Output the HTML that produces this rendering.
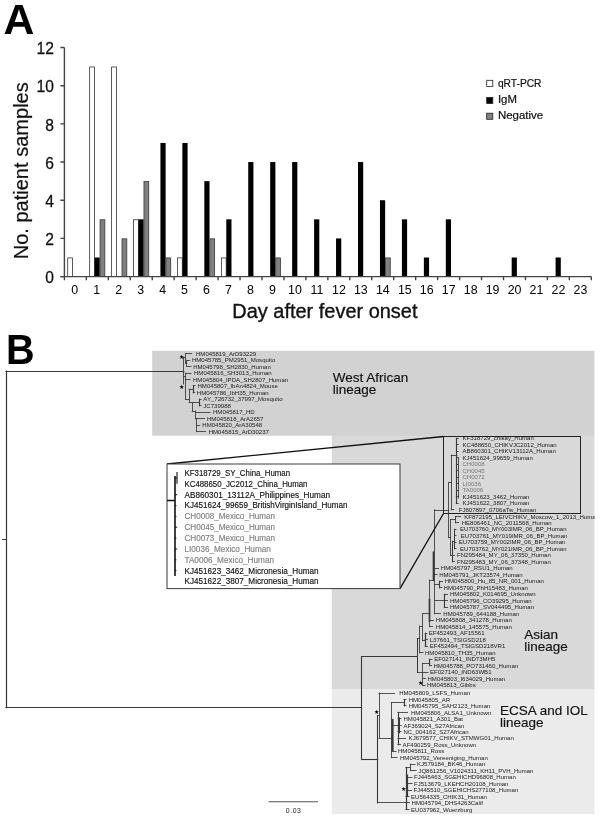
<!DOCTYPE html>
<html lang="en"><head><meta charset="utf-8"><title>Figure</title>
<style>html,body{margin:0;padding:0;background:#fff}svg{display:block}</style></head>
<body>
<svg width="600" height="822" viewBox="0 0 600 822" font-family="'Liberation Sans', Arial, sans-serif">
<rect x="0" y="0" width="600" height="822" fill="#fff"/>
<text transform="translate(3.5,33.8) scale(1.11,1.085)" font-size="38.5" font-weight="bold" fill="#000">A</text>
<g stroke-width="0.8">
<rect x="67.70" y="257.91" width="4.80" height="18.69" fill="#fff" stroke="#333"/>
<rect x="89.65" y="66.99" width="4.80" height="209.61" fill="#fff" stroke="#333"/>
<rect x="94.55" y="257.51" width="5.20" height="19.09" fill="#000" stroke="none"/>
<rect x="100.05" y="219.73" width="4.80" height="56.88" fill="#808080" stroke="#3a3a3a"/>
<rect x="111.61" y="66.99" width="4.80" height="209.61" fill="#fff" stroke="#333"/>
<rect x="122.01" y="238.82" width="4.80" height="37.78" fill="#808080" stroke="#3a3a3a"/>
<rect x="133.56" y="219.73" width="4.80" height="56.88" fill="#fff" stroke="#333"/>
<rect x="138.46" y="219.33" width="5.20" height="57.28" fill="#000" stroke="none"/>
<rect x="143.96" y="181.54" width="4.80" height="95.06" fill="#808080" stroke="#3a3a3a"/>
<rect x="160.42" y="142.96" width="5.20" height="133.64" fill="#000" stroke="none"/>
<rect x="165.92" y="257.91" width="4.80" height="18.69" fill="#808080" stroke="#3a3a3a"/>
<rect x="177.47" y="257.91" width="4.80" height="18.69" fill="#fff" stroke="#333"/>
<rect x="182.37" y="142.96" width="5.20" height="133.64" fill="#000" stroke="none"/>
<rect x="204.32" y="181.14" width="5.20" height="95.46" fill="#000" stroke="none"/>
<rect x="209.83" y="238.82" width="4.80" height="37.78" fill="#808080" stroke="#3a3a3a"/>
<rect x="221.38" y="257.91" width="4.80" height="18.69" fill="#fff" stroke="#333"/>
<rect x="226.28" y="219.33" width="5.20" height="57.28" fill="#000" stroke="none"/>
<rect x="248.23" y="162.05" width="5.20" height="114.55" fill="#000" stroke="none"/>
<rect x="270.19" y="162.05" width="5.20" height="114.55" fill="#000" stroke="none"/>
<rect x="275.69" y="257.91" width="4.80" height="18.69" fill="#808080" stroke="#3a3a3a"/>
<rect x="292.14" y="162.05" width="5.20" height="114.55" fill="#000" stroke="none"/>
<rect x="314.10" y="219.33" width="5.20" height="57.28" fill="#000" stroke="none"/>
<rect x="336.05" y="238.42" width="5.20" height="38.18" fill="#000" stroke="none"/>
<rect x="358.00" y="162.05" width="5.20" height="114.55" fill="#000" stroke="none"/>
<rect x="379.96" y="200.23" width="5.20" height="76.37" fill="#000" stroke="none"/>
<rect x="385.46" y="257.91" width="4.80" height="18.69" fill="#808080" stroke="#3a3a3a"/>
<rect x="401.91" y="219.33" width="5.20" height="57.28" fill="#000" stroke="none"/>
<rect x="423.87" y="257.51" width="5.20" height="19.09" fill="#000" stroke="none"/>
<rect x="445.82" y="219.33" width="5.20" height="57.28" fill="#000" stroke="none"/>
<rect x="511.68" y="257.51" width="5.20" height="19.09" fill="#000" stroke="none"/>
<rect x="555.59" y="257.51" width="5.20" height="19.09" fill="#000" stroke="none"/>
</g>
<g stroke="#444" stroke-width="1.4" fill="none">
<path d="M64.4 47.5 V276.6 M60.400000000000006 276.6 H591.3"/>
<path d="M60.40 276.60 H64.40 M60.40 238.42 H64.40 M60.40 200.23 H64.40 M60.40 162.05 H64.40 M60.40 123.87 H64.40 M60.40 85.68 H64.40 M60.40 47.50 H64.40 M64.40 276.60 V280.20 M86.35 276.60 V280.20 M108.31 276.60 V280.20 M130.26 276.60 V280.20 M152.22 276.60 V280.20 M174.17 276.60 V280.20 M196.12 276.60 V280.20 M218.08 276.60 V280.20 M240.03 276.60 V280.20 M261.99 276.60 V280.20 M283.94 276.60 V280.20 M305.90 276.60 V280.20 M327.85 276.60 V280.20 M349.80 276.60 V280.20 M371.76 276.60 V280.20 M393.71 276.60 V280.20 M415.67 276.60 V280.20 M437.62 276.60 V280.20 M459.57 276.60 V280.20 M481.53 276.60 V280.20 M503.48 276.60 V280.20 M525.44 276.60 V280.20 M547.39 276.60 V280.20 M569.35 276.60 V280.20 M591.30 276.60 V280.20 "/>
</g>
<g font-size="15.6" fill="#111" stroke="#111" stroke-width="0.25" text-anchor="end">
<text transform="translate(53.8,283.30) scale(1,1.05)">0</text>
<text transform="translate(53.8,245.12) scale(1,1.05)">2</text>
<text transform="translate(53.8,206.93) scale(1,1.05)">4</text>
<text transform="translate(53.8,168.75) scale(1,1.05)">6</text>
<text transform="translate(53.8,130.57) scale(1,1.05)">8</text>
<text transform="translate(53.8,92.38) scale(1,1.05)">10</text>
<text transform="translate(53.8,54.20) scale(1,1.05)">12</text>
</g>
<g font-size="12.4" fill="#000" text-anchor="middle">
<text x="74.78" y="294.2">0</text>
<text x="96.73" y="294.2">1</text>
<text x="118.69" y="294.2">2</text>
<text x="140.64" y="294.2">3</text>
<text x="162.59" y="294.2">4</text>
<text x="184.55" y="294.2">5</text>
<text x="206.50" y="294.2">6</text>
<text x="228.46" y="294.2">7</text>
<text x="250.41" y="294.2">8</text>
<text x="272.36" y="294.2">9</text>
<text x="295.02" y="294.2">10</text>
<text x="316.97" y="294.2">11</text>
<text x="338.93" y="294.2">12</text>
<text x="360.88" y="294.2">13</text>
<text x="382.84" y="294.2">14</text>
<text x="404.79" y="294.2">15</text>
<text x="426.74" y="294.2">16</text>
<text x="448.70" y="294.2">17</text>
<text x="470.65" y="294.2">18</text>
<text x="492.61" y="294.2">19</text>
<text x="514.56" y="294.2">20</text>
<text x="536.51" y="294.2">21</text>
<text x="558.47" y="294.2">22</text>
<text x="580.42" y="294.2">23</text>
</g>
<text x="232.3" y="317.5" font-size="19.9" fill="#111" stroke="#111" stroke-width="0.35" textLength="185.2" lengthAdjust="spacingAndGlyphs">Day after fever onset</text>
<text transform="translate(28.3,259.3) rotate(-90)" font-size="20.05" fill="#111" stroke="#111" stroke-width="0.2">No. patient samples</text>
<rect x="486.7" y="80.3" width="6.1" height="6.1" fill="#fff" stroke="#222" stroke-width="0.8"/>
<text x="497.9" y="86.9" font-size="10.4" fill="#111" stroke="#111" stroke-width="0.2" textLength="43.6" lengthAdjust="spacingAndGlyphs">qRT-PCR</text>
<rect x="486.7" y="97.4" width="6.1" height="6.1" fill="#000" stroke="#222" stroke-width="0.8"/>
<text x="497.9" y="102.7" font-size="10.4" fill="#111" stroke="#111" stroke-width="0.2" textLength="19.0" lengthAdjust="spacingAndGlyphs">IgM</text>
<rect x="486.7" y="113.2" width="6.1" height="6.1" fill="#808080" stroke="#222" stroke-width="0.8"/>
<text x="497.9" y="119.1" font-size="10.4" fill="#111" stroke="#111" stroke-width="0.2" textLength="45.3" lengthAdjust="spacingAndGlyphs">Negative</text>
<text transform="translate(6.1,364.0) scale(1.03,1.085)" font-size="38.5" font-weight="bold" fill="#000">B</text>
<rect x="331.8" y="435" width="262.6" height="254" fill="#d9d9d9"/>
<rect x="152.2" y="350.8" width="442.2" height="84.9" fill="#d2d2d2"/>
<rect x="331.8" y="689" width="262.6" height="125.2" fill="#ebebeb"/>
<g stroke="#383838" fill="none" stroke-linecap="square">
<line x1="6.5" y1="371.2" x2="6.5" y2="707.6" stroke-width="1.2"/>
<line x1="6.0" y1="371.5" x2="183.8" y2="371.5" stroke-width="1.1"/>
<line x1="6.0" y1="707.5" x2="361.6" y2="707.5" stroke-width="1.1"/>
<line x1="2.5" y1="539.5" x2="6.0" y2="539.5" stroke-width="1.0"/>
<line x1="183.5" y1="357.5" x2="183.5" y2="384.0" stroke-width="0.85"/>
<line x1="183.8" y1="357.5" x2="185.5" y2="357.5" stroke-width="0.85"/>
<line x1="185.5" y1="353.6" x2="185.5" y2="363.0" stroke-width="0.85"/>
<line x1="185.5" y1="353.5" x2="191.7" y2="353.5" stroke-width="0.85"/>
<line x1="185.5" y1="363.5" x2="186.7" y2="363.5" stroke-width="0.85"/>
<line x1="186.5" y1="360.3" x2="186.5" y2="366.3" stroke-width="0.85"/>
<line x1="186.7" y1="360.5" x2="189.5" y2="360.5" stroke-width="0.85"/>
<line x1="186.7" y1="366.5" x2="191.0" y2="366.5" stroke-width="0.85"/>
<line x1="183.8" y1="376.5" x2="185.5" y2="376.5" stroke-width="0.85"/>
<line x1="185.5" y1="373.0" x2="185.5" y2="399.2" stroke-width="0.85"/>
<line x1="185.5" y1="373.5" x2="191.0" y2="373.5" stroke-width="0.85"/>
<line x1="185.5" y1="379.5" x2="190.0" y2="379.5" stroke-width="0.85"/>
<line x1="185.5" y1="399.5" x2="189.2" y2="399.5" stroke-width="0.85"/>
<line x1="189.5" y1="389.2" x2="189.5" y2="402.5" stroke-width="0.85"/>
<line x1="189.2" y1="389.5" x2="193.3" y2="389.5" stroke-width="0.85"/>
<line x1="193.5" y1="385.8" x2="193.5" y2="392.8" stroke-width="1.1"/>
<line x1="193.3" y1="385.5" x2="195.0" y2="385.5" stroke-width="0.85"/>
<line x1="193.3" y1="392.5" x2="194.6" y2="392.5" stroke-width="0.85"/>
<line x1="189.2" y1="402.5" x2="192.2" y2="402.5" stroke-width="0.85"/>
<line x1="192.5" y1="402.5" x2="192.5" y2="411.0" stroke-width="0.85"/>
<line x1="192.2" y1="402.5" x2="199.7" y2="402.5" stroke-width="0.85"/>
<line x1="199.5" y1="399.2" x2="199.5" y2="405.8" stroke-width="1.1"/>
<line x1="199.7" y1="399.5" x2="201.0" y2="399.5" stroke-width="0.85"/>
<line x1="199.7" y1="405.5" x2="201.0" y2="405.5" stroke-width="0.85"/>
<line x1="192.2" y1="411.5" x2="195.5" y2="411.5" stroke-width="0.85"/>
<line x1="195.5" y1="411.0" x2="195.5" y2="418.8" stroke-width="0.85"/>
<line x1="195.5" y1="412.5" x2="210.0" y2="412.5" stroke-width="0.85"/>
<line x1="195.5" y1="418.5" x2="204.5" y2="418.5" stroke-width="0.85"/>
<line x1="196.5" y1="418.8" x2="196.5" y2="431.7" stroke-width="0.85"/>
<line x1="196.7" y1="425.5" x2="199.7" y2="425.5" stroke-width="0.85"/>
<line x1="196.7" y1="431.5" x2="205.5" y2="431.5" stroke-width="0.85"/>
<line x1="361.5" y1="656.6" x2="361.5" y2="759.0" stroke-width="1.1"/>
<line x1="361.6" y1="656.5" x2="417.4" y2="656.5" stroke-width="1.1"/>
<line x1="417.5" y1="638.5" x2="417.5" y2="672.5" stroke-width="1.0"/>
<line x1="417.4" y1="672.5" x2="422.5" y2="672.5" stroke-width="0.85"/>
<line x1="422.5" y1="663.3" x2="422.5" y2="685.3" stroke-width="0.85"/>
<line x1="422.5" y1="663.5" x2="429.7" y2="663.5" stroke-width="0.85"/>
<line x1="429.5" y1="659.3" x2="429.5" y2="665.8" stroke-width="1.1"/>
<line x1="429.7" y1="659.5" x2="432.0" y2="659.5" stroke-width="0.85"/>
<line x1="429.7" y1="665.5" x2="431.5" y2="665.5" stroke-width="0.85"/>
<line x1="422.5" y1="672.5" x2="428.0" y2="672.5" stroke-width="0.85"/>
<line x1="422.5" y1="678.5" x2="425.5" y2="678.5" stroke-width="0.85"/>
<line x1="422.5" y1="685.5" x2="425.0" y2="685.5" stroke-width="0.85"/>
<line x1="417.4" y1="638.5" x2="419.6" y2="638.5" stroke-width="0.85"/>
<line x1="419.5" y1="626.0" x2="419.5" y2="652.8" stroke-width="0.85"/>
<line x1="419.6" y1="652.5" x2="423.0" y2="652.5" stroke-width="0.85"/>
<line x1="419.6" y1="626.5" x2="422.5" y2="626.5" stroke-width="0.85"/>
<line x1="422.5" y1="613.6" x2="422.5" y2="640.5" stroke-width="0.85"/>
<line x1="422.5" y1="613.5" x2="429.8" y2="613.5" stroke-width="0.85"/>
<line x1="422.5" y1="640.5" x2="425.3" y2="640.5" stroke-width="0.85"/>
<line x1="425.5" y1="633.3" x2="425.5" y2="646.3" stroke-width="1.2"/>
<line x1="425.3" y1="633.5" x2="426.8" y2="633.5" stroke-width="0.85"/>
<line x1="425.3" y1="639.5" x2="427.5" y2="639.5" stroke-width="0.85"/>
<line x1="425.3" y1="646.5" x2="427.5" y2="646.5" stroke-width="0.85"/>
<line x1="429.5" y1="580.0" x2="429.5" y2="626.8" stroke-width="0.85"/>
<line x1="429.5" y1="599.7" x2="429.5" y2="621.0" stroke-width="1.7"/>
<line x1="429.8" y1="620.5" x2="433.5" y2="620.5" stroke-width="0.85"/>
<line x1="429.8" y1="626.5" x2="432.5" y2="626.5" stroke-width="0.85"/>
<line x1="429.8" y1="580.5" x2="433.5" y2="580.5" stroke-width="0.85"/>
<line x1="434.5" y1="509.7" x2="434.5" y2="613.8" stroke-width="0.85"/>
<line x1="433.5" y1="552.3" x2="433.5" y2="580.0" stroke-width="1.7"/>
<line x1="434.6" y1="613.5" x2="440.5" y2="613.5" stroke-width="0.85"/>
<line x1="434.6" y1="584.5" x2="439.5" y2="584.5" stroke-width="0.85"/>
<line x1="439.5" y1="581.3" x2="439.5" y2="587.8" stroke-width="1.1"/>
<line x1="439.5" y1="581.5" x2="442.5" y2="581.5" stroke-width="0.85"/>
<line x1="439.5" y1="587.5" x2="441.8" y2="587.5" stroke-width="0.85"/>
<line x1="434.6" y1="600.5" x2="444.3" y2="600.5" stroke-width="0.85"/>
<line x1="444.5" y1="594.3" x2="444.5" y2="607.3" stroke-width="1.1"/>
<line x1="444.3" y1="594.5" x2="447.5" y2="594.5" stroke-width="0.85"/>
<line x1="444.3" y1="600.5" x2="447.5" y2="600.5" stroke-width="0.85"/>
<line x1="444.3" y1="607.5" x2="447.5" y2="607.5" stroke-width="0.85"/>
<line x1="434.6" y1="568.5" x2="438.5" y2="568.5" stroke-width="0.85"/>
<line x1="434.6" y1="574.5" x2="437.0" y2="574.5" stroke-width="0.85"/>
<line x1="434.6" y1="510.5" x2="448.8" y2="510.5" stroke-width="0.85"/>
<line x1="448.5" y1="482.4" x2="448.5" y2="537.6" stroke-width="0.85"/>
<line x1="451.3" y1="509.5" x2="453.8" y2="509.5" stroke-width="0.85"/>
<line x1="448.8" y1="482.5" x2="451.3" y2="482.5" stroke-width="0.85"/>
<line x1="451.5" y1="455.0" x2="451.5" y2="509.8" stroke-width="0.85"/>
<line x1="451.3" y1="455.5" x2="456.8" y2="455.5" stroke-width="0.85"/>
<line x1="456.5" y1="438.3" x2="456.5" y2="503.3" stroke-width="1.1"/>
<line x1="456.4" y1="438.5" x2="458.2" y2="438.5" stroke-width="0.85"/>
<line x1="456.4" y1="444.5" x2="458.2" y2="444.5" stroke-width="0.85"/>
<line x1="456.4" y1="451.5" x2="458.2" y2="451.5" stroke-width="0.85"/>
<line x1="456.4" y1="457.5" x2="458.2" y2="457.5" stroke-width="0.85"/>
<line x1="456.4" y1="464.5" x2="458.2" y2="464.5" stroke-width="0.85"/>
<line x1="456.4" y1="470.5" x2="458.2" y2="470.5" stroke-width="0.85"/>
<line x1="456.4" y1="477.5" x2="458.2" y2="477.5" stroke-width="0.85"/>
<line x1="456.4" y1="483.5" x2="458.2" y2="483.5" stroke-width="0.85"/>
<line x1="456.4" y1="490.5" x2="458.2" y2="490.5" stroke-width="0.85"/>
<line x1="456.4" y1="496.5" x2="458.2" y2="496.5" stroke-width="0.85"/>
<line x1="456.4" y1="503.5" x2="458.2" y2="503.5" stroke-width="0.85"/>
<line x1="458.5" y1="458.0" x2="458.5" y2="498.0" stroke-width="0.85"/>
<line x1="448.8" y1="537.5" x2="450.6" y2="537.5" stroke-width="0.85"/>
<line x1="450.5" y1="519.7" x2="450.5" y2="555.5" stroke-width="0.85"/>
<line x1="450.6" y1="519.5" x2="455.4" y2="519.5" stroke-width="0.85"/>
<line x1="455.5" y1="516.6" x2="455.5" y2="522.8" stroke-width="0.85"/>
<line x1="455.4" y1="516.5" x2="460.5" y2="516.5" stroke-width="0.85"/>
<line x1="455.4" y1="522.5" x2="458.5" y2="522.5" stroke-width="0.85"/>
<line x1="450.6" y1="555.5" x2="452.6" y2="555.5" stroke-width="0.85"/>
<line x1="452.5" y1="541.3" x2="452.5" y2="561.8" stroke-width="1.0"/>
<line x1="452.6" y1="541.5" x2="454.6" y2="541.5" stroke-width="0.85"/>
<line x1="454.5" y1="529.3" x2="454.5" y2="548.8" stroke-width="1.0"/>
<line x1="454.6" y1="529.5" x2="456.0" y2="529.5" stroke-width="0.85"/>
<line x1="454.6" y1="535.5" x2="456.0" y2="535.5" stroke-width="0.85"/>
<line x1="454.6" y1="542.5" x2="456.0" y2="542.5" stroke-width="0.85"/>
<line x1="454.6" y1="548.5" x2="456.0" y2="548.5" stroke-width="0.85"/>
<line x1="452.6" y1="555.5" x2="454.4" y2="555.5" stroke-width="0.85"/>
<line x1="452.6" y1="561.5" x2="454.4" y2="561.5" stroke-width="0.85"/>
<line x1="361.6" y1="759.5" x2="377.6" y2="759.5" stroke-width="1.1"/>
<line x1="377.5" y1="715.6" x2="377.5" y2="803.0" stroke-width="1.1"/>
<line x1="377.6" y1="802.5" x2="406.0" y2="802.5" stroke-width="0.85"/>
<line x1="377.6" y1="715.5" x2="379.0" y2="715.5" stroke-width="0.85"/>
<line x1="379.5" y1="693.0" x2="379.5" y2="738.0" stroke-width="0.85"/>
<line x1="379.0" y1="693.5" x2="394.5" y2="693.5" stroke-width="0.85"/>
<line x1="379.0" y1="738.5" x2="391.6" y2="738.5" stroke-width="0.85"/>
<line x1="391.5" y1="702.4" x2="391.5" y2="757.7" stroke-width="0.85"/>
<line x1="392.5" y1="720.0" x2="392.5" y2="750.0" stroke-width="2.2"/>
<line x1="391.6" y1="702.5" x2="404.0" y2="702.5" stroke-width="0.85"/>
<line x1="404.5" y1="699.5" x2="404.5" y2="705.9" stroke-width="1.1"/>
<line x1="404.0" y1="699.5" x2="406.0" y2="699.5" stroke-width="0.85"/>
<line x1="404.0" y1="705.5" x2="406.0" y2="705.5" stroke-width="0.85"/>
<line x1="391.6" y1="725.5" x2="398.0" y2="725.5" stroke-width="0.85"/>
<line x1="398.5" y1="712.4" x2="398.5" y2="744.8" stroke-width="1.1"/>
<line x1="398.0" y1="712.5" x2="407.5" y2="712.5" stroke-width="0.85"/>
<line x1="398.0" y1="718.5" x2="401.0" y2="718.5" stroke-width="0.85"/>
<line x1="398.0" y1="725.5" x2="401.2" y2="725.5" stroke-width="0.85"/>
<line x1="398.0" y1="731.5" x2="401.0" y2="731.5" stroke-width="0.85"/>
<line x1="398.0" y1="738.5" x2="405.5" y2="738.5" stroke-width="0.85"/>
<line x1="398.0" y1="744.5" x2="400.5" y2="744.5" stroke-width="0.85"/>
<line x1="399.5" y1="717.9" x2="399.5" y2="732.8" stroke-width="1.0"/>
<line x1="391.6" y1="751.5" x2="396.0" y2="751.5" stroke-width="0.85"/>
<line x1="391.6" y1="757.5" x2="397.0" y2="757.5" stroke-width="0.85"/>
<line x1="406.5" y1="767.5" x2="406.5" y2="809.5" stroke-width="1.2"/>
<line x1="406.0" y1="767.5" x2="410.4" y2="767.5" stroke-width="0.85"/>
<line x1="410.5" y1="764.2" x2="410.5" y2="770.6" stroke-width="0.85"/>
<line x1="410.4" y1="764.5" x2="415.0" y2="764.5" stroke-width="0.85"/>
<line x1="410.4" y1="770.5" x2="416.0" y2="770.5" stroke-width="0.85"/>
<line x1="407.5" y1="775.1" x2="407.5" y2="796.5" stroke-width="1.2"/>
<line x1="407.0" y1="777.5" x2="412.0" y2="777.5" stroke-width="0.85"/>
<line x1="407.0" y1="783.5" x2="412.0" y2="783.5" stroke-width="0.85"/>
<line x1="407.0" y1="790.5" x2="411.5" y2="790.5" stroke-width="0.85"/>
<line x1="406.0" y1="796.5" x2="409.0" y2="796.5" stroke-width="0.85"/>
<line x1="406.0" y1="802.5" x2="409.5" y2="802.5" stroke-width="0.85"/>
<line x1="406.0" y1="809.5" x2="409.0" y2="809.5" stroke-width="0.85"/>
</g>
<rect x="443.5" y="436.5" width="137" height="77" fill="none" stroke="#222" stroke-width="1"/>
<path d="M167 464 L443.5 436.5 M400 588.6 L443.5 513.5" stroke="#111" stroke-width="1.3" fill="none"/>
<clipPath id="cp"><rect x="0" y="0" width="594.6" height="822"/></clipPath>
<g font-size="6.05" clip-path="url(#cp)">
<text x="196.0" y="355.75" fill="#1a1a1a">HM045819_ArD93229</text>
<text x="191.9" y="362.25" fill="#1a1a1a">HM045785_PM2951_Mosquito</text>
<text x="193.2" y="368.75" fill="#1a1a1a">HM045798_SH2830_Human</text>
<text x="194.0" y="375.25" fill="#1a1a1a">HM045816_SH3013_Human</text>
<text x="193.0" y="381.75" fill="#1a1a1a">HM045804_IPDA_SH2807_Human</text>
<text x="197.5" y="388.25" fill="#1a1a1a">HM045807_IbAn4824_Mouse</text>
<text x="196.8" y="394.75" fill="#1a1a1a">HM045786_IbH35_Human</text>
<text x="203.3" y="401.25" fill="#1a1a1a">AY_726732_37997_Mosquito</text>
<text x="203.3" y="407.75" fill="#1a1a1a">JC739988</text>
<text x="213.0" y="414.25" fill="#1a1a1a">HM045817_HD</text>
<text x="207.0" y="420.75" fill="#1a1a1a">HM045818_ArA2657</text>
<text x="202.3" y="427.25" fill="#1a1a1a">HM045820_ArA30548</text>
<text x="208.7" y="433.75" fill="#1a1a1a">HM045815_ArD30237</text>
<text x="462.5" y="440.45" fill="#1a1a1a">KF318729_chikay_Human</text>
<text x="462.5" y="446.95" fill="#1a1a1a">KC488650_CHIKVJC2012_Human</text>
<text x="462.5" y="453.45" fill="#1a1a1a">AB860301_CHIKV13112A_Human</text>
<text x="462.5" y="459.95" fill="#1a1a1a">KJ451624_99659_Human</text>
<text x="462.5" y="466.45" fill="#777">CH0008</text>
<text x="462.5" y="472.95" fill="#777">CH0045</text>
<text x="462.5" y="479.45" fill="#777">CH0072</text>
<text x="462.5" y="485.95" fill="#777">LI0036</text>
<text x="462.5" y="492.45" fill="#777">TA0006</text>
<text x="462.5" y="498.95" fill="#1a1a1a">KJ451623_3462_Human</text>
<text x="462.5" y="505.45" fill="#1a1a1a">KJ451622_3807_Human</text>
<text x="458.7" y="511.95" fill="#1a1a1a">FJ807897_0706aTw_Human</text>
<text x="464.2" y="518.95" fill="#1a1a1a">KF872195_LEIVCHIKV_Moscow_1_2013_Human</text>
<text x="461.7" y="524.95" fill="#1a1a1a">HE806461_NC_2011568_Human</text>
<text x="460.0" y="531.45" fill="#1a1a1a">EU703760_MY003IMR_06_BP_Human</text>
<text x="460.8" y="537.95" fill="#1a1a1a">EU703761_MY019IMR_06_BP_Human</text>
<text x="458.8" y="544.45" fill="#1a1a1a">EU703759_MY002IMR_06_BP_Human</text>
<text x="460.0" y="550.95" fill="#1a1a1a">EU703762_MY021IMR_06_BP_Human</text>
<text x="457.0" y="557.45" fill="#1a1a1a">FN295484_MY_06_37350_Human</text>
<text x="457.0" y="563.95" fill="#1a1a1a">FN295483_MY_06_37348_Human</text>
<text x="440.8" y="570.45" fill="#1a1a1a">HM045797_RSU1_Human</text>
<text x="439.2" y="576.95" fill="#1a1a1a">HM045791_JKT23574_Human</text>
<text x="444.7" y="583.45" fill="#1a1a1a">HM045800_Hu_85_NR_001_Human</text>
<text x="443.6" y="589.95" fill="#1a1a1a">HM045790_PhH15483_Human</text>
<text x="450.0" y="596.45" fill="#1a1a1a">HM045802_K014695_Unknown</text>
<text x="450.0" y="602.95" fill="#1a1a1a">HM045796_CO39295_Human</text>
<text x="450.0" y="609.45" fill="#1a1a1a">HM045787_SV044495_Human</text>
<text x="443.3" y="615.95" fill="#1a1a1a">HM045789_644188_Human</text>
<text x="435.8" y="622.45" fill="#1a1a1a">HM045808_341278_Human</text>
<text x="435.8" y="628.95" fill="#1a1a1a">HM045814_145575_Human</text>
<text x="428.7" y="635.45" fill="#1a1a1a">EF452493_AF15561</text>
<text x="429.7" y="641.95" fill="#1a1a1a">L37661_TSIGSD218</text>
<text x="429.7" y="648.45" fill="#1a1a1a">EF452494_TSIGSD218VR1</text>
<text x="425.0" y="654.95" fill="#1a1a1a">HM045810_TH35_Human</text>
<text x="434.2" y="661.45" fill="#1a1a1a">EF027141_IND73MH5</text>
<text x="433.4" y="667.95" fill="#1a1a1a">HM045788_PO731460_Human</text>
<text x="430.0" y="674.45" fill="#1a1a1a">EF027140_IND63WB1</text>
<text x="427.5" y="680.95" fill="#1a1a1a">HM045803_I634029_Human</text>
<text x="427.0" y="687.45" fill="#1a1a1a">HM045813_Gibbs</text>
<text x="399.2" y="695.15" fill="#1a1a1a">HM045809_LSFS_Human</text>
<text x="408.7" y="701.62" fill="#1a1a1a">HM045805_AR</text>
<text x="408.7" y="708.09" fill="#1a1a1a">HM045795_SAH2123_Human</text>
<text x="411.0" y="714.56" fill="#1a1a1a">HM045806_ALSA1_Unknown</text>
<text x="403.5" y="721.03" fill="#1a1a1a">HM045821_A301_Bat</text>
<text x="403.5" y="727.50" fill="#1a1a1a">AF369024_S27African</text>
<text x="403.5" y="733.97" fill="#1a1a1a">NC_004162_S27African</text>
<text x="408.6" y="740.44" fill="#1a1a1a">KJ679577_CHIKV_STMWG01_Human</text>
<text x="402.6" y="746.91" fill="#1a1a1a">AF490259_Ross_Unknown</text>
<text x="398.0" y="753.38" fill="#1a1a1a">HM045811_Ross</text>
<text x="400.0" y="759.85" fill="#1a1a1a">HM045792_Vereeniging_Human</text>
<text x="417.0" y="766.32" fill="#1a1a1a">KJ579184_BK46_Human</text>
<text x="418.4" y="772.79" fill="#1a1a1a">JQ861256_V1024311_KH11_PVH_Human</text>
<text x="414.0" y="779.26" fill="#1a1a1a">FJ445463_SGEHICHD96808_Human</text>
<text x="414.0" y="785.73" fill="#1a1a1a">FJ513679_LKEHCH20108_Human</text>
<text x="413.4" y="792.20" fill="#1a1a1a">FJ445510_SGEHICHS277108_Human</text>
<text x="411.0" y="798.67" fill="#1a1a1a">EU564335_CHIK31_Human</text>
<text x="411.6" y="805.14" fill="#1a1a1a">HM045794_DHS4263Calif</text>
<text x="411.0" y="811.61" fill="#1a1a1a">EU037962_Wuerzburg</text>
</g>
<g font-size="6.4" fill="#000" text-anchor="middle">
<text x="181.6" y="358.6">★</text>
<text x="181.6" y="389.1">★</text>
<text x="420.0" y="685.2">★</text>
<text x="376.3" y="713.8">★</text>
<text x="403.3" y="791.0">★</text>
</g>
<g font-size="13.5" fill="#111" stroke="#111" stroke-width="0.15">
<text x="332.8" y="382">West African</text><text x="332.8" y="393.6">lineage</text>
<text x="524.2" y="639.4">Asian</text><text x="524.2" y="651">lineage</text>
<text x="500" y="715">ECSA and IOL</text><text x="500" y="726.5">lineage</text>
</g>
<rect x="167" y="464" width="233" height="124.6" fill="#fff" stroke="#3a3a3a" stroke-width="1"/>
<g font-size="8.2" stroke-width="0.15">
<text x="184.5" y="475.90" fill="#111" stroke="#111" textLength="105.5" lengthAdjust="spacingAndGlyphs">KF318729_SY_China_Human</text>
<text x="184.5" y="486.75" fill="#111" stroke="#111" textLength="123.0" lengthAdjust="spacingAndGlyphs">KC488650_JC2012_China_Human</text>
<text x="184.5" y="497.60" fill="#111" stroke="#111" textLength="145.5" lengthAdjust="spacingAndGlyphs">AB860301_13112A_Philippines_Human</text>
<text x="184.5" y="508.45" fill="#111" stroke="#111" textLength="163.0" lengthAdjust="spacingAndGlyphs">KJ451624_99659_BritishVirginIsland_Human</text>
<text x="184.5" y="519.30" fill="#808080" stroke="#808080" textLength="90.5" lengthAdjust="spacingAndGlyphs">CH0008_Mexico_Human</text>
<text x="184.5" y="530.15" fill="#808080" stroke="#808080" textLength="90.5" lengthAdjust="spacingAndGlyphs">CH0045_Mexico_Human</text>
<text x="184.5" y="541.00" fill="#808080" stroke="#808080" textLength="90.5" lengthAdjust="spacingAndGlyphs">CH0073_Mexico_Human</text>
<text x="184.5" y="551.85" fill="#808080" stroke="#808080" textLength="86.3" lengthAdjust="spacingAndGlyphs">LI0036_Mexico_Human</text>
<text x="184.5" y="562.70" fill="#808080" stroke="#808080" textLength="89.5" lengthAdjust="spacingAndGlyphs">TA0006_Mexico_Human</text>
<text x="184.5" y="573.55" fill="#111" stroke="#111" textLength="134.0" lengthAdjust="spacingAndGlyphs">KJ451623_3462_Micronesia_Human</text>
<text x="184.5" y="584.40" fill="#111" stroke="#111" textLength="134.0" lengthAdjust="spacingAndGlyphs">KJ451622_3807_Micronesia_Human</text>
</g>
<g stroke="#111" fill="none">
<path d="M167 500.5 H175 M175 476 V576" stroke-width="1.6"/>
<path d="M177 472 V483.75 M175 478 H177" stroke-width="1.1"/>
<path d="M175 494.7 H177.2 M175 505.6 H176.4 M175 516.4 H176.4 M175 527.2 H177.2 M175 538.1 H176.4 M175 549.0 H177.2 M175 559.8 H176.4 M175 570.6 H176.4 " stroke-width="1"/>
</g>
<path d="M268.6 801.7 H318" stroke="#555" stroke-width="1.1" fill="none"/>
<text x="293.6" y="813.1" font-size="6.9" fill="#222" text-anchor="middle" letter-spacing="0.55">0.03</text>
</svg>
</body></html>
